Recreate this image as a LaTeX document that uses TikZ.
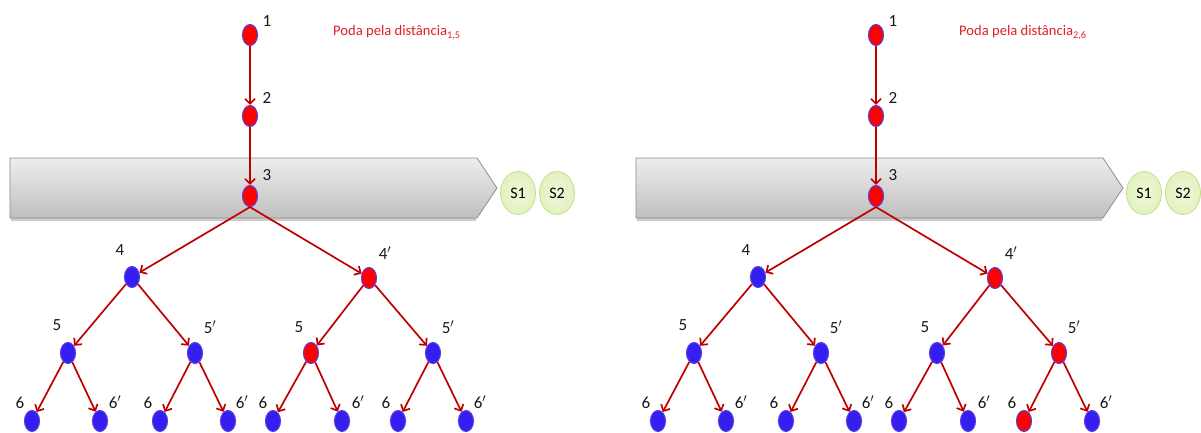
\documentclass[tikz,border=0pt]{standalone}
\usepackage{fontspec}
\setmainfont{Carlito}
\usetikzlibrary{arrows.meta,shapes.geometric}
\definecolor{edgered}{RGB}{192,0,0}
\definecolor{nblue}{RGB}{52,30,240}
\definecolor{nborder}{RGB}{90,60,225}
\definecolor{titlered}{RGB}{222,32,42}
\definecolor{sfill}{RGB}{226,242,190}
\definecolor{sborder}{RGB}{196,222,140}
\tikzset{
  vtx/.style={ellipse, minimum width=15pt, minimum height=21pt, inner sep=0pt, draw=nborder, line width=1.1pt, fill=nblue},
  vred/.style={vtx, fill=red},
  lbl/.style={font=\fontsize{17}{17}\selectfont, inner sep=0pt, text=black!90},
  conn/.style={draw=edgered, line width=1.7pt, -{Straight Barb[length=5pt,width=10pt]}},
  sbox/.style={ellipse, minimum width=35pt, minimum height=43pt, inner sep=0pt, draw=sborder, line width=0.8pt, inner color=sfill!55, outer color=sfill, font=\fontsize{16}{16}\selectfont},
  titletext/.style={font=\fontsize{14.6}{15}\selectfont, text=titlered, inner sep=0pt, anchor=base west}
}
% #1 prefix, #2 subscript, #3 style of 5c, #4 style of 5d, #5 style of leaf g
\newcommand\treepanel[5]{%
  % banner
  \path[draw=black!40, line width=3pt, opacity=0.5] (11,219.5) -- (476,219.5);
  \path[top color=black!7, bottom color=black!25, draw=black!45, line width=0.8pt]
    (10,158) -- (477,158) -- (497,188) -- (477,218) -- (10,218) -- cycle;
  \node[sbox] (#1s1) at (518,193) {S1};
  \node[sbox] (#1s2) at (557,193) {S2};
  \node[titletext] (#1title) at (333,36) {Poda pela distância\textsubscript{#2}};
  % vertices
  \node[vred] (#1n1) at (250,35) {};
  \node[vred] (#1n2) at (250,116) {};
  \node[vred] (#1n3) at (250,196) {};
  \node[vtx]  (#1n4) at (132,277) {};
  \node[vred] (#1n4p) at (369,278) {};
  \node[vtx]  (#1n5a) at (68,353) {};
  \node[vtx]  (#1n5b) at (195,353) {};
  \node[#3]   (#1n5c) at (311,353) {};
  \node[#4]   (#1n5d) at (433,353) {};
  \node[vtx] (#1la) at (32,421) {};
  \node[vtx] (#1lb) at (100,421) {};
  \node[vtx] (#1lc) at (160,421) {};
  \node[vtx] (#1ld) at (228,421) {};
  \node[vtx] (#1le) at (273,421) {};
  \node[vtx] (#1lf) at (342,421) {};
  \node[#5]  (#1lg) at (398,421) {};
  \node[vtx] (#1lh) at (466,421) {};
  % labels
  \node[lbl] (#1t1) at (267,21) {1};
  \node[lbl] (#1t2) at (267,98) {2};
  \node[lbl] (#1t3) at (267,175) {3};
  \node[lbl] (#1t4) at (120,250) {4};
  \node[lbl] (#1t4p) at (385,253) {4$'$};
  \node[lbl] (#1t5a) at (57,325) {5};
  \node[lbl] (#1t5b) at (210,327) {5$'$};
  \node[lbl] (#1t5c) at (299,327) {5};
  \node[lbl] (#1t5d) at (448,327) {5$'$};
  \node[lbl] (#1ta) at (20,403) {6};
  \node[lbl] (#1tb) at (115,402) {6$'$};
  \node[lbl] (#1tc) at (148,403) {6};
  \node[lbl] (#1td) at (242,402) {6$'$};
  \node[lbl] (#1te) at (263,403) {6};
  \node[lbl] (#1tf) at (358,402) {6$'$};
  \node[lbl] (#1tg) at (386,403) {6};
  \node[lbl] (#1th) at (480,402) {6$'$};
  % connectors
  \draw[conn] (#1n1) -- (#1n2);
  \draw[conn] (#1n2) -- (#1n3);
  \draw[conn] (#1n3.south) -- (#1n4);
  \draw[conn] (#1n3.south) -- (#1n4p);
  \draw[conn] (#1n4) -- (#1n5a);
  \draw[conn] (#1n4) -- (#1n5b);
  \draw[conn] (#1n4p) -- (#1n5c);
  \draw[conn] (#1n4p) -- (#1n5d);
  \draw[conn] (#1n5a) -- (#1la);
  \draw[conn] (#1n5a) -- (#1lb);
  \draw[conn] (#1n5b) -- (#1lc);
  \draw[conn] (#1n5b) -- (#1ld);
  \draw[conn] (#1n5c) -- (#1le);
  \draw[conn] (#1n5c) -- (#1lf);
  \draw[conn] (#1n5d) -- (#1lg);
  \draw[conn] (#1n5d) -- (#1lh);
}
\begin{document}
\begin{tikzpicture}[x=1pt,y=-1pt]
  \useasboundingbox[fill=white] (0,0) rectangle (1201,433);
  \begin{scope}
    \treepanel{L}{1,5}{vred}{vtx}{vtx}
  \end{scope}
  \begin{scope}[xshift=626pt]
    \treepanel{R}{2,6}{vtx}{vred}{vred}
  \end{scope}
\end{tikzpicture}
\end{document}
